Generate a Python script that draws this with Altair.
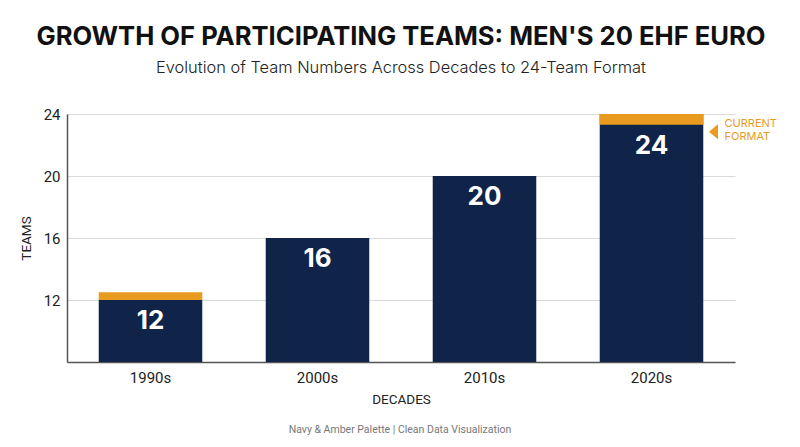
import altair as alt
import pandas as pd

decades = ["1990s", "2000s", "2010s", "2020s"]
teams = [12, 16, 20, 24]
navy_tops = [12, 16, 20, 23.3]
accent_decades = ["1990s", "2020s"]
accent_low = [12, 23.3]
accent_high = [12.5, 24]
note_lines = ["CURRENT", "FORMAT"]
note_levels = [23.35, 22.5]
y_ticks = [12, 16, 20, 24]

NAVY = "#10244A"
AMBER = "#E89B1F"

df = pd.DataFrame({"decade": decades, "teams": teams, "navy_top": navy_tops,
                   "label": [str(t) for t in teams]})
acc = pd.DataFrame({"decade": accent_decades, "lo": accent_low, "hi": accent_high})
notes = pd.DataFrame({"decade": ["2020s"] * 2, "line": note_lines, "lvl": note_levels})
tri = pd.DataFrame({"decade": ["2020s"], "lvl": [22.85]})

xscale = alt.Scale(domain=decades, paddingInner=0.38, paddingOuter=0.19)
yscale = alt.Scale(domain=[8, 24], nice=False, zero=False)

x = alt.X("decade:N", sort=decades, scale=xscale,
          axis=alt.Axis(title="DECADES", labelAngle=0, ticks=False, domainColor="#555",
                        domainWidth=1.5, labelFont="Roboto", labelFontSize=15,
                        labelColor="#222", labelPadding=8, titleFont="Roboto",
                        titleFontSize=13.5, titleFontWeight="normal", titlePadding=7,
                        titleColor="#222", grid=False))
y = alt.Y("teams:Q", scale=yscale,
          axis=alt.Axis(title="TEAMS", values=y_ticks, ticks=False, domainColor="#555",
                        domainWidth=1.5, gridColor="#DADADA", gridWidth=1.2,
                        labelFont="Roboto", labelFontSize=15, labelColor="#222",
                        labelPadding=7, titleFont="Roboto", titleFontSize=13.5,
                        titleFontWeight="normal", titleColor="#222", titlePadding=10))

bars = alt.Chart(df).mark_bar(color=NAVY).encode(x=x, y=y, y2=alt.datum(8))

accents = alt.Chart(acc).mark_bar(color=AMBER).encode(
    x=alt.X("decade:N", sort=decades, scale=xscale),
    y=alt.Y("lo:Q", scale=yscale), y2="hi:Q")

labels = alt.Chart(df).mark_text(color="white", font="Inter", fontWeight="bold",
                                 fontSize=26, baseline="middle", dy=21).encode(
    x=alt.X("decade:N", sort=decades, scale=xscale),
    y=alt.Y("navy_top:Q", scale=yscale), text="label:N")

triangle = alt.Chart(tri).mark_point(shape="M0.6,-1L-0.6,0L0.6,1Z", filled=True,
                                     color=AMBER, opacity=1, size=225, xOffset=62).encode(
    x=alt.X("decade:N", sort=decades, scale=xscale),
    y=alt.Y("lvl:Q", scale=yscale))

note = alt.Chart(notes).mark_text(color=AMBER, font="Inter", fontSize=11, align="left",
                                  baseline="middle", dx=73).encode(
    x=alt.X("decade:N", sort=decades, scale=xscale),
    y=alt.Y("lvl:Q", scale=yscale), text="line:N")

footer = alt.Chart(pd.DataFrame({"t": ["Navy & Amber Palette | Clean Data Visualization"]})).mark_text(
    font="Roboto", fontSize=10.5, color="#777", baseline="middle").encode(
    x=alt.value(333), y=alt.value(316), text="t:N")

chart = alt.layer(bars, accents, labels, triangle, note, footer).properties(
    width=668, height=248,
    autosize=alt.AutoSizeParams(type="none"),
    padding={"left": 59, "top": 106, "right": 49, "bottom": 75},
    title=alt.TitleParams(
        text="GROWTH OF PARTICIPATING TEAMS: MEN'S 20 EHF EURO",
        subtitle="Evolution of Team Numbers Across Decades to 24-Team Format",
        font="Inter", fontSize=25.6, fontWeight="bold", color="#111",
        subtitleFont="Inter", subtitleFontSize=16.4, subtitleFontWeight=300,
        subtitleColor="#222", subtitlePadding=9, anchor="middle", offset=31),
    background="white",
).configure_view(stroke=None)

chart.save("out.html", embed_options={"renderer": "svg", "actions": False})
